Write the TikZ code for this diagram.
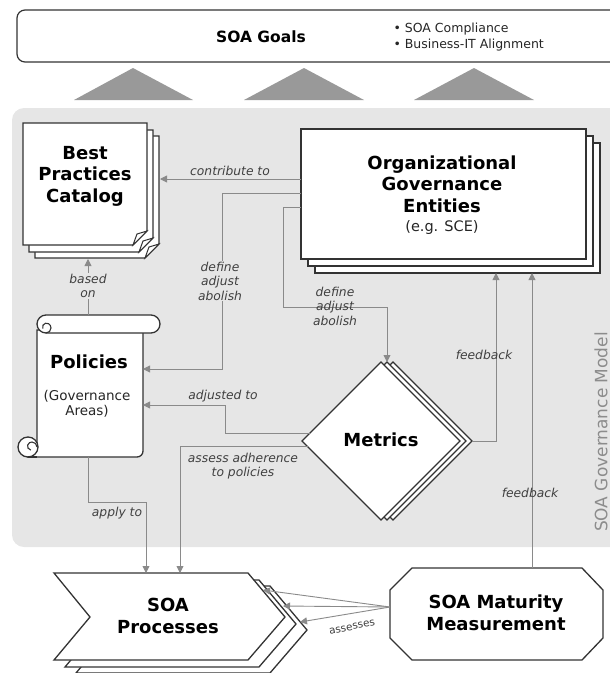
\documentclass[tikz,border=0pt]{standalone}
\usepackage{fontspec}
\setmainfont{DejaVu Sans}
\usetikzlibrary{arrows.meta,calc}
\definecolor{shapeline}{HTML}{333333}
\definecolor{connc}{HTML}{8A8A8A}
\definecolor{regionbg}{HTML}{E6E6E6}
\definecolor{tric}{HTML}{999999}
\definecolor{labelc}{HTML}{404040}
\definecolor{govc}{HTML}{8C8C8C}
\begin{document}
\begin{tikzpicture}[x=1pt,y=-1pt,
  shp/.style={draw=shapeline,line width=1.3pt,fill=white,line join=miter},
  conn/.style={draw=connc,line width=0.9pt,-{Triangle[width=7pt,length=7pt]}},
  lbl/.style={font=\fontsize{12.3}{14.5}\selectfont\itshape,text=labelc,align=center,inner sep=1pt},
  ttl/.style={font=\fontsize{18}{21.5}\selectfont\bfseries,align=center,text=black,inner sep=0pt},
  sub/.style={font=\fontsize{13.5}{15}\selectfont,align=center,text=black!85,inner sep=0pt}
]
\useasboundingbox (0,0) rectangle (610,673);

% top goals box
\draw[draw=shapeline,line width=1.2pt,rounded corners=8,fill=white] (17,10) rectangle (618,62);
\node[font=\fontsize{15.5}{18}\selectfont\bfseries] (goals) at (261,37) {SOA Goals};
\node[font=\fontsize{12.5}{16}\selectfont,align=left,anchor=west,text=black!85] (goallist) at (390,37) {• SOA Compliance\\• Business-IT Alignment};

% triangles
\fill[tric] (74,100) -- (133,68) -- (193,100) -- cycle;
\fill[tric] (244,100) -- (304,68) -- (364,100) -- cycle;
\fill[tric] (414,100) -- (474,68) -- (534,100) -- cycle;

% governance region
\fill[regionbg,rounded corners=12] (12,108) rectangle (622,547);
\node[rotate=90,font=\fontsize{17}{20}\selectfont,text=govc] (gov) at (601,432) {SOA Governance Model};

% Best practices catalog (page stack)
\foreach \dx/\dy in {12/13,6/7,0/0}{
  \begin{scope}[shift={(\dx,\dy)}]
    \filldraw[shp] (23,123) -- (147,123) -- (147,231) -- (133,245) -- (23,245) -- cycle;
    \filldraw[shp,line width=1pt] (147,231) -- (137,234) -- (133,245) -- cycle;
  \end{scope}
}
\node[ttl] (bpc) at (85,176) {Best\\Practices\\Catalog};

% Organizational governance entities
\foreach \d in {14,7,0}{
  \begin{scope}[shift={(\d,\d)}]
    \filldraw[shp] (301,129) rectangle (586,259);
  \end{scope}
}
\node[ttl] (oge) at (442,184) {Organizational\\Governance\\Entities};
\node[sub,font=\fontsize{14.5}{17}\selectfont] (ogesub) at (442,228) {(e.g. SCE)};

% Policies scroll
\filldraw[shp] (37,330) -- (37,447) -- (28,457) -- (137,457) arc(90:0:6) -- (143,330) -- cycle;
\filldraw[shp] (46,315) -- (151,315) arc(-90:90:9) -- (46,333) arc(90:270:9) -- cycle;
\draw[draw=shapeline,line width=1.1pt] (46,333) arc(90:-60:5) arc(-60:-200:4);
\filldraw[shp] (28,447) circle (10);
\draw[draw=shapeline,line width=1.1pt] (28,457) -- (37,457);
\draw[draw=shapeline,line width=1.1pt] (37,447) arc(0:-120:5) arc(-120:-260:4);
\node[ttl] (pol) at (89,362) {Policies};
\node[sub] (polsub) at (87,404) {(Governance\\Areas)};

% Metrics diamond stack
\foreach \d in {12,6,0}{
  \begin{scope}[shift={(\d,0)}]
    \filldraw[shp] (381,362) -- (460,441) -- (381,520) -- (302,441) -- cycle;
  \end{scope}
}
\node[ttl] (met) at (381,440) {Metrics};

% SOA Processes chevron stack
\foreach \dx/\dy in {22/13,11/7,0/0}{
  \begin{scope}[shift={(\dx,\dy)}]
    \filldraw[shp] (54,573) -- (248,573) -- (285,617) -- (248,660) -- (54,660) -- (90,617) -- cycle;
  \end{scope}
}
\node[ttl] (proc) at (168,616) {SOA\\Processes};

% SOA Maturity Measurement octagon
\filldraw[shp] (412,568) -- (582,568) -- (603,590) -- (603,638) -- (582,660) -- (412,660) -- (390,638) -- (390,590) -- cycle;
\node[ttl] (smm) at (496,613) {SOA Maturity\\Measurement};

% connector end points
\coordinate (ogeW1) at (301,179);
\coordinate (ogeW2) at (301,193);
\coordinate (ogeW3) at (301,207);
\coordinate (bpcE) at (160,179);
\coordinate (bpcS) at (88,259);
\coordinate (polN) at (88,315);
\coordinate (polE1) at (143,369);
\coordinate (polE2) at (143,405);
\coordinate (polS) at (88,457);
\coordinate (metN) at (387,362);
\coordinate (metW1) at (310,433);
\coordinate (metW2) at (308,446);
\coordinate (metE) at (472,441);
\coordinate (ogeS1) at (496,273);
\coordinate (ogeS2) at (532,273);
\coordinate (procN1) at (146,573);
\coordinate (procN2) at (180,573);
\coordinate (smmN) at (532,568);
\coordinate (smmW) at (390,607);
\coordinate (procE1) at (263,590);
\coordinate (procE2) at (283,606);
\coordinate (procE3) at (300,622);

% connectors
\draw[conn] (ogeW1) -- (bpcE);
\draw[conn] (ogeW2) -- ++(-79,0) |- (polE1);
\draw[conn] (ogeW3) -- ++(-18,0) -- ++(0,100) -| (metN);
\draw[conn] (metW1) -- ++(-85,0) |- (polE2);
\draw[conn] (metW2) -| (procN2);
\draw[conn] (polS) -- ++(0,45) -| (procN1);
\draw[conn] (polN) -- (bpcS);
\draw[conn] (metE) -| (ogeS1);
\draw[conn] (smmN) -- (ogeS2);
\draw[conn] (smmW) -- (procE1);
\draw[conn] (smmW) -- (procE2);
\draw[conn] (smmW) -- (procE3);

% labels
\node[lbl] (lcontrib) at (230,171) {contribute to};
\node[lbl,fill=regionbg] (ldef1) at (220,281) {define\\adjust\\abolish};
\node[lbl] (ldef2) at (335,306) {define\\adjust\\abolish};
\node[lbl,fill=regionbg] (lbased) at (88,286) {based\\on};
\node[lbl] (ladj) at (223,396) {adjusted to};
\node[lbl] (lassess) at (243,466) {assess adherence\\to policies};
\node[lbl] (lapply) at (117,513) {apply to};
\node[lbl] (lfb1) at (484,355) {feedback};
\node[lbl] (lfb2) at (530,493) {feedback};
\node[lbl,font=\fontsize{10.5}{12}\selectfont,rotate=12] (lassesses) at (352,627) {assesses};
\end{tikzpicture}
\end{document}
